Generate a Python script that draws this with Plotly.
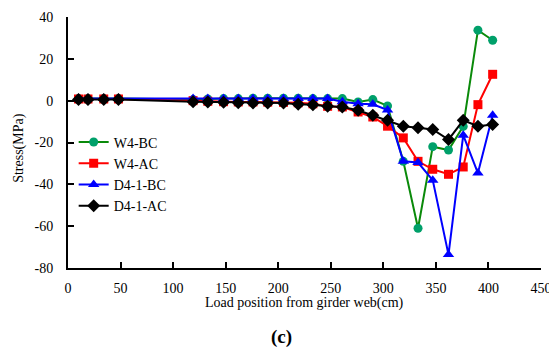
import plotly.graph_objects as go

x_pos = [10, 19, 34, 48, 119, 133, 148, 162, 176, 190, 205, 219, 233, 247, 261,
         276, 290, 304, 319, 333, 347, 362, 376, 390, 404]

w4_bc = [1, 1, 1, 1, 0.5, 0.8, 1, 1, 1.2, 1.2, 1.2, 1.2, 1, 1, 1,
         -0.6, 0.5, -2.5, -29, -61, -22, -23.6, -12.3, 33.7, 28.9]
w4_ac = [0.8, 0.8, 0.8, 0.8, 0, -0.3, -0.5, -0.6, -0.6, -0.7, -0.8, -1, -1.5, -2.7, -3,
         -5.4, -7.8, -12.2, -17.8, -29, -32.8, -35.2, -31.7, -1.9, 12.6]
d41_bc = [1, 1, 1, 1, 1, 1, 1, 1, 1, 1, 1, 1, 1, 1, -0.5,
          -1.5, -1.7, -4.5, -29, -29.6, -38, -73.6, -16.5, -34.6, -7]
d41_ac = [0.5, 0.5, 0.5, 0.5, -0.5, -0.6, -0.8, -1, -1.1, -1.1, -1.1, -1.7, -1.9, -2.7, -3,
          -4.6, -7, -9.4, -12.2, -12.9, -13.8, -18.6, -9.4, -12.2, -11.4]

x_ticks = [0, 50, 100, 150, 200, 250, 300, 350, 400, 450]
y_ticks = [-80, -60, -40, -20, 0, 20, 40]
y_tick_text = ["-80", "-60", "-40", "-20", "0", "20", "40"]

series = [
    ("W4-BC", w4_bc, "#0A8A0A", "#00A06A", "circle", 9),
    ("W4-AC", w4_ac, "#FF0000", "#FF0000", "square", 9),
    ("D4-1-BC", d41_bc, "#0000FF", "#0000FF", "triangle-up", 10),
    ("D4-1-AC", d41_ac, "#000000", "#000000", "diamond", 10),
]

fig = go.Figure()
for name, vals, lc, mc, sym, sz in series:
    fig.add_trace(go.Scatter(
        x=x_pos, y=vals, name=name, mode="lines+markers",
        line=dict(color=lc, width=2),
        marker=dict(symbol=sym, size=sz, color=mc, line=dict(width=0)),
    ))

FF = "Liberation Serif"
axis_common = dict(
    showline=True, linecolor="black", linewidth=2, ticks="inside", ticklen=6,
    tickwidth=2, tickcolor="black", showgrid=False, zeroline=False, mirror=False,
    automargin=False, ticklabeloverflow="allow",
    tickfont=dict(family=FF, size=14, color="black"),
)
fig.update_xaxes(range=[0, 450], tickmode="array", tickvals=x_ticks,
                 ticktext=[str(v) for v in x_ticks], ticklabelstandoff=6, **axis_common)
fig.update_yaxes(range=[-80, 40], tickmode="array", tickvals=y_ticks,
                 ticktext=y_tick_text, ticklabelstandoff=10, **axis_common)

fig.add_annotation(text="Load position from girder web(cm)", xref="paper", yref="paper",
                   x=0.5, y=-0.14, xanchor="center", yanchor="middle", showarrow=False,
                   font=dict(family=FF, size=14, color="black"))
fig.add_annotation(text="Stress(MPa)", xref="paper", yref="paper", textangle=-90,
                   x=-0.105, y=0.48, xanchor="center", yanchor="middle", showarrow=False,
                   font=dict(family=FF, size=14, color="black"))
fig.add_annotation(text="<b>(c)</b>", xref="paper", yref="paper", x=0.452, y=-0.275,
                   xanchor="center", yanchor="middle", showarrow=False,
                   font=dict(family=FF, size=19, color="black"))

fig.update_layout(
    width=549, height=352,
    margin=dict(l=68, r=8, t=17, b=84, autoexpand=False),
    plot_bgcolor="white", paper_bgcolor="white",
    legend=dict(x=0.012, y=0.564, xanchor="left", yanchor="top",
                font=dict(family=FF, size=14, color="black"),
                bgcolor="rgba(0,0,0,0)", tracegroupgap=0),
    font=dict(family=FF),
)

fig.write_html("out.html", config={"displayModeBar": False},
               post_script="document.body.style.margin='0';document.body.style.padding='0';")
